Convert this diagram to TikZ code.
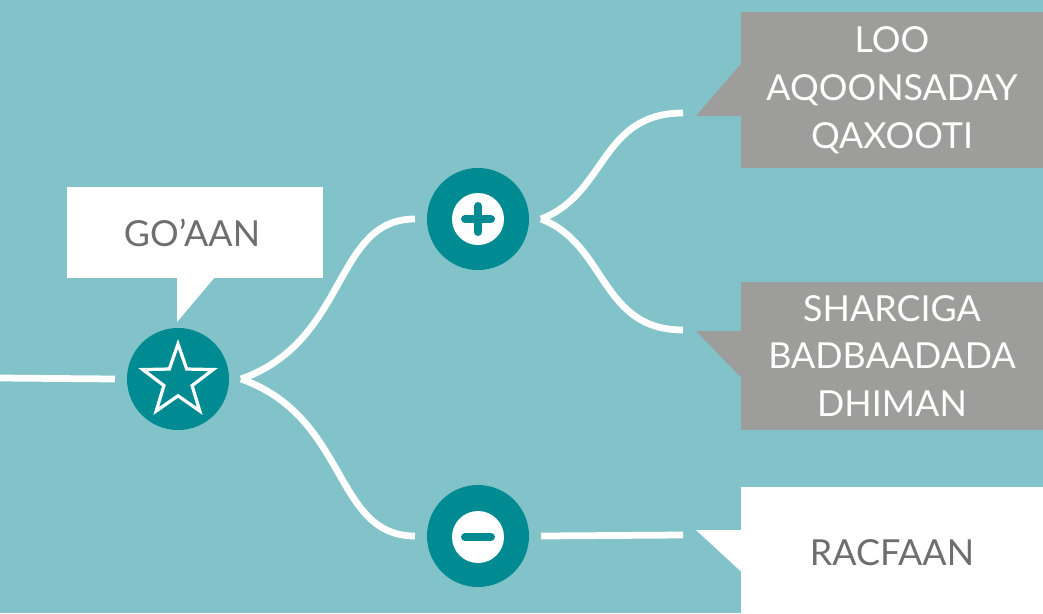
\documentclass[tikz,border=0pt]{standalone}
\usepackage{fontspec}
\setmainfont{Lato}
\usetikzlibrary{shapes.geometric}
\definecolor{bgteal}{HTML}{82C3C9}
\definecolor{darkteal}{HTML}{008B93}
\definecolor{boxgray}{HTML}{9D9D9C}
\definecolor{textgray}{HTML}{6E6E6E}

\begin{document}
\begin{tikzpicture}[
    x=0.025cm, y=-0.025cm,
    hub/.style={circle, fill=darkteal, minimum size=2.55cm, inner sep=0pt, outer sep=0.3cm},
    knob/.style={circle, fill=white, minimum size=1.3cm, inner sep=0pt},
    link/.style={white, line width=4.8pt},
    sign/.style={darkteal, line width=5.7pt, line cap=round},
    tag/.style={rectangle, inner sep=0pt, minimum width=7.55cm, align=center},
    every node/.style={font=\fontsize{25.5}{34}\selectfont}
  ]
  % ---- Background ----
  \useasboundingbox (0,0) rectangle (1043,613);
  \fill[bgteal] (0,0) rectangle (1043,613);

  % ---- Hubs ----
  \node[hub] (goal)  at (178,379) {};
  \node[star, star points=5, star point ratio=2.5, draw=white, line width=2.3pt,
        minimum size=1.85cm, inner sep=0pt] (goalstar) at (178,381) {};
  \node[hub] (plus)  at (478,219) {};
  \node[knob] (plusknob) at (478,219) {};
  \draw[sign] (plusknob) +(-13,0) -- +(13,0);
  \draw[sign] (plusknob) +(0,-13) -- +(0,13);
  \node[hub] (minus) at (478,536) {};
  \node[knob] (minusknob) at (478,537) {};
  \draw[sign] (minusknob) +(-13,0) -- +(13,0);

  % ---- Callouts ----
  \node[tag, fill=white, text=textgray, minimum width=6.4cm, minimum height=2.275cm]
    (goaan) at (195,232.5) {\hspace*{-0.15cm}GO’AAN};
  \fill[white] (177,277) -- (177,322) -- (215,277) -- cycle;

  \node[tag, fill=boxgray, text=white, minimum height=3.9cm]
    (expert) at (892,90) {LOO\\AQOONSADAY\\QAXOOTI};
  \fill[boxgray] (741.5,63) -- (696,116) -- (741.5,116) -- cycle;

  \node[tag, fill=boxgray, text=white, minimum height=3.675cm]
    (rule) at (892,356) {SHARCIGA\\BADBAADADA\\DHIMAN};
  \fill[boxgray] (741.5,331) -- (696,331) -- (741.5,378) -- cycle;

  \node[tag, fill=white, text=textgray, minimum height=3.3cm]
    (reject) at (892,553) {RACFAAN};
  \fill[white] (741.5,530) -- (696,530) -- (741.5,572) -- cycle;

  % ---- Connectors ----
  \coordinate (in) at (0,378);
  \coordinate (t1) at (683,113);
  \coordinate (t2) at (683,330);
  \coordinate (t3) at (683,535);

  \draw[link] (in) -- (goal.west);
  \draw[link] (goal.east) .. controls +(108,-38) and +(-82,0) .. (plus.west);
  \draw[link] (goal.east) .. controls +(108,38) and +(-82,0) .. (minus.west);
  \draw[link] (plus.east) .. controls +(66,-25) and +(-83,0) .. (t1);
  \draw[link] (plus.east) .. controls +(66,25) and +(-83,0) .. (t2);
  \draw[link] (minus.east) -- (t3);
\end{tikzpicture}
\end{document}
